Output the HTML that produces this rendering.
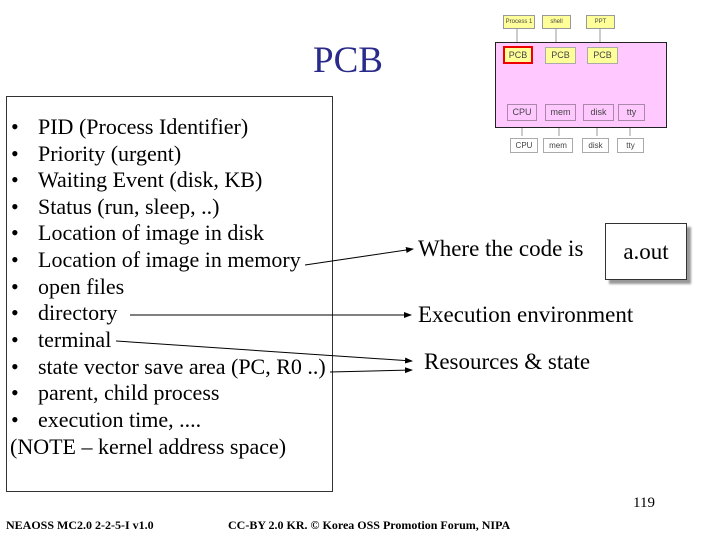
<!DOCTYPE html>
<html><head><style>
body{margin:0;width:703px;height:540px;background:#fff;position:relative;overflow:hidden;font-family:"Liberation Serif",serif;}
.a{position:absolute;}
.li{position:absolute;left:38px;font-size:22px;white-space:nowrap;line-height:22px}
.li:before{content:"•";position:absolute;left:-27px}
.s{position:absolute;font-family:"Liberation Sans",sans-serif;font-size:9px;text-align:center;color:#444}
</style></head><body>
<div class="a" style="left:313px;top:39px;font-size:37px;color:#2a2a8a;">PCB</div>
<div class="a" style="left:6px;top:96px;width:325px;height:394px;border:1px solid #333;"></div>
<div class="li" style="top:116px">PID (Process Identifier)</div>
<div class="li" style="top:143px">Priority (urgent)</div>
<div class="li" style="top:169px">Waiting Event (disk, KB)</div>
<div class="li" style="top:196px">Status (run, sleep, ..)</div>
<div class="li" style="top:222px">Location of image in disk</div>
<div class="li" style="top:249px">Location of image in memory</div>
<div class="li" style="top:276px">open files</div>
<div class="li" style="top:302px">directory</div>
<div class="li" style="top:329px">terminal</div>
<div class="li" style="top:356px">state vector save area (PC, R0 ..)</div>
<div class="li" style="top:382px">parent, child process</div>
<div class="li" style="top:409px">execution time, ....</div>
<div class="a" style="top:436px;left:10px;font-size:22px;line-height:22px;white-space:nowrap">(NOTE – kernel address space)</div>
<div class="a" style="left:418px;top:236px;font-size:23px;white-space:nowrap">Where the code is</div>
<div class="a" style="left:418px;top:302px;font-size:23px;white-space:nowrap">Execution environment</div>
<div class="a" style="left:424px;top:349px;font-size:23px;white-space:nowrap">Resources &amp; state</div>
<div class="a" style="left:605px;top:223px;width:80px;height:55px;border:1px solid #333;box-shadow:4px 4px 2px #999;font-size:23px;line-height:55px;text-align:center;background:#fff">a.out</div>
<svg class="a" style="left:0;top:0" width="703" height="540">
<defs><marker id="m" markerWidth="8" markerHeight="8" refX="7" refY="4" orient="auto"><path d="M0,1 L8,4 L0,7z" fill="#000"/></marker></defs>
<g stroke="#000" stroke-width="1" fill="none">
<line x1="305" y1="265" x2="413" y2="249" marker-end="url(#m)"/>
<line x1="130" y1="315" x2="411" y2="315" marker-end="url(#m)"/>
<line x1="116" y1="341" x2="412" y2="361" marker-end="url(#m)"/>
<line x1="330" y1="372" x2="412" y2="370" marker-end="url(#m)"/>
</g>
<g stroke="#999"><line x1="517" y1="28" x2="517" y2="42"/><line x1="556" y1="28" x2="556" y2="42"/><line x1="600" y1="28" x2="600" y2="42"/>
<line x1="522" y1="127" x2="522" y2="136"/><line x1="559" y1="127" x2="559" y2="136"/><line x1="597" y1="127" x2="597" y2="136"/><line x1="630" y1="127" x2="630" y2="136"/></g>
</svg>
<div class="a" style="left:495px;top:42px;width:170px;height:84px;background:#ffc8ff;border:1px solid #222"></div>
<div class="s" style="left:503px;top:15px;width:30px;height:12px;background:#ffff99;border:1px solid #999;font-size:6px;line-height:12px">Process 1</div>
<div class="s" style="left:542px;top:15px;width:27px;height:12px;background:#ffff99;border:1px solid #999;font-size:6px;line-height:12px">shell</div>
<div class="s" style="left:586px;top:15px;width:27px;height:12px;background:#ffff99;border:1px solid #999;font-size:6px;line-height:12px">PPT</div>
<div class="s" style="left:503px;top:46px;width:26px;height:14px;background:#ffff99;border:2px solid #e00;line-height:14px">PCB</div>
<div class="s" style="left:545px;top:47px;width:29px;height:15px;background:#ffff99;border:1px solid #aaa;line-height:15px">PCB</div>
<div class="s" style="left:587px;top:47px;width:29px;height:15px;background:#ffff99;border:1px solid #aaa;line-height:15px">PCB</div>
<div class="s" style="left:507px;top:104px;width:28px;height:15px;border:1px solid #a8a;line-height:15px">CPU</div>
<div class="s" style="left:545px;top:104px;width:29px;height:15px;border:1px solid #a8a;line-height:15px">mem</div>
<div class="s" style="left:583px;top:104px;width:29px;height:15px;border:1px solid #a8a;line-height:15px">disk</div>
<div class="s" style="left:618px;top:104px;width:25px;height:15px;border:1px solid #a8a;line-height:15px">tty</div>
<div class="s" style="left:510px;top:138px;width:26px;height:13px;border:1px solid #aaa;line-height:13px;font-size:8px">CPU</div>
<div class="s" style="left:543px;top:138px;width:28px;height:13px;border:1px solid #aaa;line-height:13px;font-size:8px">mem</div>
<div class="s" style="left:582px;top:138px;width:25px;height:13px;border:1px solid #aaa;line-height:13px;font-size:8px">disk</div>
<div class="s" style="left:617px;top:138px;width:25px;height:13px;border:1px solid #aaa;line-height:13px;font-size:8px">tty</div>
<div class="a" style="left:633px;top:495px;font-size:15px">119</div>
<div class="a" style="left:6px;top:518px;font-size:12px;font-weight:bold;white-space:nowrap">NEAOSS MC2.0 2-2-5-I v1.0</div>
<div class="a" style="left:228px;top:518px;font-size:12px;font-weight:bold;white-space:nowrap">CC-BY 2.0 KR. © Korea OSS Promotion Forum, NIPA</div>
</body></html>
